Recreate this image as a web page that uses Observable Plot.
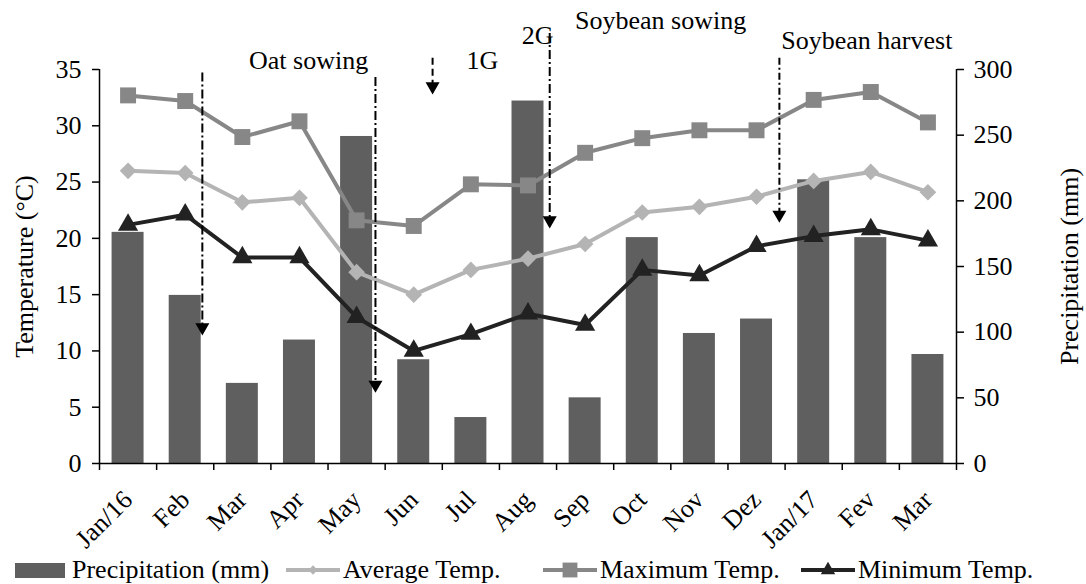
<!DOCTYPE html>
<html>
<head>
<meta charset="utf-8">
<script src="https://cdn.jsdelivr.net/npm/d3@7"></script>
<script src="https://cdn.jsdelivr.net/npm/@observablehq/plot@0.6"></script>
<style>
  body { margin: 0; background: #fff; font-family: "Liberation Serif", "Times New Roman", serif; }
  #chart svg { display: block; overflow: visible; }
  .legend { position: relative; height: 28px; font-size: 26px; color: #000; }
  .legend .item { position: absolute; top: 0; height: 28px; display: flex; align-items: center; white-space: nowrap; }
  .legend svg { margin-right: 3px; }
</style>
</head>
<body>
<div id="chart"></div>
<div class="legend" id="legend"></div>
<script>
const months = ["Jan/16","Feb","Mar","Apr","May","Jun","Jul","Aug","Sep","Oct","Nov","Dez","Jan/17","Fev","Mar"];
const precipitation = [176, 128, 61, 94, 249, 79, 35, 276, 50, 172, 99, 110, 216, 172, 83];
const avgTemp = [26.0, 25.8, 23.2, 23.6, 17.0, 15.0, 17.2, 18.2, 19.5, 22.3, 22.8, 23.7, 25.1, 25.9, 24.1];
const maxTemp = [32.7, 32.2, 29.0, 30.4, 21.6, 21.1, 24.8, 24.7, 27.6, 28.9, 29.6, 29.6, 32.3, 33.0, 30.3];
const minTemp = [21.2, 22.1, 18.3, 18.3, 13.0, 10.0, 11.5, 13.3, 12.3, 17.2, 16.7, 19.3, 20.2, 20.8, 19.8];

const tempTicks = [0, 5, 10, 15, 20, 25, 30, 35];
const precTicks = [0, 50, 100, 150, 200, 250, 300];

// Annotation arrows (x in month index units, y in °C)
const arrowX    = [1.3, 4.33, 5.33, 7.38, 11.4];
const arrowTop  = [34.7, 34.3, 36.0, 38.2, 36.0];
const arrowHead = [12.1, 7.0, 33.5, 21.6, 22.1];
const arrowDash = ["9,3,2,3", "9,3,2,3", "7,4", "9,3,2,3", "7,3,2,3"];

const labels  = ["Oat sowing", "1G", "2G", "Soybean sowing", "Soybean harvest"];
const labelX  = [3.16, 6.2, 7.17, 9.32, 12.93];
const labelY  = [35.8, 35.8, 38.0, 39.35, 37.55];

const colBar = "#5f5f5f", colAvg = "#b4b4b4", colMax = "#878787", colMin = "#222222";
const scale = 35 / 300;
const FS = 26;

const idx = d3.range(months.length);
const rows = idx.map(i => ({i, month: months[i], p: precipitation[i], avg: avgTemp[i], max: maxTemp[i], min: minTemp[i]}));
const arrows = arrowX.map((x, k) => ({x, top: arrowTop[k], head: arrowHead[k], dash: arrowDash[k]}));
const notes = labels.map((t, k) => ({t, x: labelX[k], y: labelY[k]}));
const halfBar = 0.28;

const plot = Plot.plot({
  width: 1086,
  height: 556,
  marginLeft: 99,
  marginRight: 130,
  marginTop: 69,
  marginBottom: 93,
  style: {fontFamily: "'Liberation Serif', 'Times New Roman', serif", fontSize: FS + "px", color: "#000", background: "#fff", overflow: "visible"},
  x: {type: "linear", domain: [-0.5, 14.5]},
  y: {domain: [0, 35]},
  marks: [
    Plot.rectY(rows, {x1: d => d.i - halfBar, x2: d => d.i + halfBar, y1: 0, y2: d => d.p * scale, fill: colBar}),
    // axis lines
    Plot.ruleX([-0.5], {stroke: "#000", strokeWidth: 1.5}),
    Plot.ruleX([14.5], {stroke: "#000", strokeWidth: 1.5}),
    Plot.ruleY([0], {stroke: "#000", strokeWidth: 1.5}),
    // lines
    Plot.line(rows, {x: "i", y: "max", stroke: colMax, strokeWidth: 4}),
    Plot.dot(rows, {x: "i", y: "max", symbol: "square", r: 9, fill: colMax}),
    Plot.line(rows, {x: "i", y: "avg", stroke: colAvg, strokeWidth: 4}),
    Plot.dot(rows, {x: "i", y: "avg", symbol: "diamond2", r: 7.5, fill: colAvg}),
    Plot.line(rows, {x: "i", y: "min", stroke: colMin, strokeWidth: 4}),
    Plot.dot(rows, {x: "i", y: "min", symbol: "triangle", r: 7.5, fill: colMin}),
    // annotations
    ...arrows.map(a => Plot.ruleX([a], {x: "x", y1: "top", y2: "head", stroke: "#000", strokeWidth: 2, strokeDasharray: a.dash})),
    Plot.dot(arrows, {x: "x", y: "head", symbol: "triangle", rotate: 180, r: 5.2, fill: "#000"}),
    Plot.text(notes, {x: "x", y: "y", text: "t", fill: "#000", fontSize: FS}),
    // axes
    Plot.axisY({anchor: "left", ticks: tempTicks, tickSize: 7, tickPadding: 11, fontSize: FS, label: "Temperature (°C)", labelAnchor: "center", labelArrow: "none", labelOffset: 85}),
    Plot.axisY({anchor: "right", ticks: precTicks.map(v => v * scale), tickFormat: v => String(Math.round(v / scale)), tickSize: 7, tickPadding: 10, fontSize: FS, label: "Precipitation (mm)", labelAnchor: "center", labelArrow: "none", labelOffset: 121}),
    Plot.axisX({ticks: d3.range(-0.5, 15, 1), tickFormat: () => "", tickSize: 7, label: null}),
    Plot.axisX({ticks: idx, tickFormat: i => months[i], tickSize: 0, tickRotate: -45, tickPadding: 32, fontSize: FS, label: null})
  ]
});
plot.querySelectorAll("[aria-label^='y-axis tick'] path, [aria-label^='x-axis tick'] path").forEach(p => { p.setAttribute("stroke-width", 1.5); p.setAttribute("stroke", "#000"); });
document.getElementById("chart").appendChild(plot);

// Legend
const legendItems = [
  {name: "Precipitation (mm)", type: "bar", color: colBar, left: 15},
  {name: "Average Temp.", type: "diamond", color: colAvg, left: 286},
  {name: "Maximum Temp.", type: "square", color: colMax, left: 543},
  {name: "Minimum Temp.", type: "triangle", color: colMin, left: 801}
];
const leg = d3.select("#legend");
legendItems.forEach(it => {
  const item = leg.append("div").attr("class", "item").style("left", it.left + "px");
  const s = item.append("svg").attr("width", 54).attr("height", 22);
  if (it.type === "bar") {
    s.append("rect").attr("x", 0).attr("y", 4).attr("width", 50).attr("height", 15).attr("fill", it.color);
  } else {
    s.append("line").attr("x1", 0).attr("x2", 54).attr("y1", 11).attr("y2", 11).attr("stroke", it.color).attr("stroke-width", 4).attr("stroke-linecap", "round");
    const sym = it.type === "diamond" ? d3.symbolDiamond2 : it.type === "square" ? d3.symbolSquare : d3.symbolTriangle;
    const size = it.type === "diamond" ? 55 : it.type === "square" ? 220 : 90;
    s.append("path").attr("transform", "translate(27,11)").attr("d", d3.symbol(sym, size)()).attr("fill", it.color);
  }
  item.append("span").text(it.name);
});
</script>
</body>
</html>
